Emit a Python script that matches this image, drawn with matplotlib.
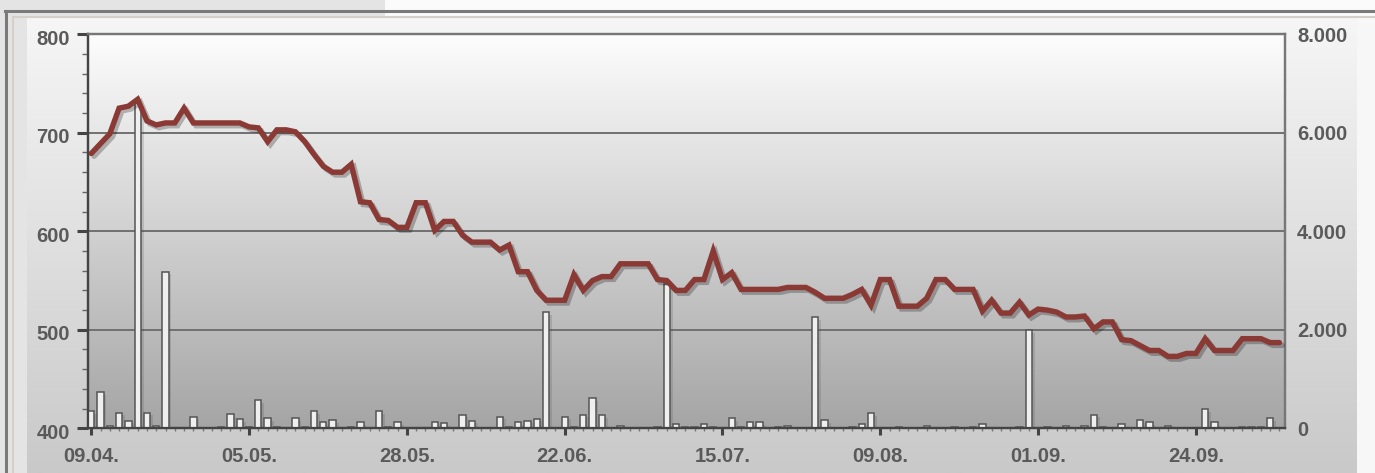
import numpy as np
import matplotlib
matplotlib.use("Agg")
import matplotlib.pyplot as plt
import matplotlib.patheffects as pe
import matplotlib.transforms as mtrans
from matplotlib.patches import Rectangle
from matplotlib.ticker import MultipleLocator, FuncFormatter

# Kurs (linke Achse), ein Wert pro Handelstag
kurs = [679, 689, 699, 725, 727, 734, 712, 708, 710, 710,
        725, 710, 710, 710, 710, 710, 710, 706, 705, 691,
        703, 703, 701, 691, 678, 666, 660, 660, 668, 630,
        629, 612, 611, 604, 604, 629, 629, 601, 610, 610,
        596, 589, 589, 589, 581, 586, 559, 559, 540, 530,
        530, 530, 556, 540, 550, 554, 554, 567, 567, 567,
        567, 551, 550, 540, 540, 551, 551, 580, 551, 558,
        541, 541, 541, 541, 541, 543, 543, 543, 538, 532,
        532, 532, 536, 541, 525, 551, 551, 524, 524, 524,
        532, 551, 551, 541, 541, 541, 519, 530, 517, 517,
        528, 515, 521, 520, 518, 513, 513, 514, 501, 508,
        508, 490, 489, 484, 479, 479, 473, 473, 476, 476,
        491, 479, 479, 479, 491, 491, 491, 487, 487]

# Umsatz (rechte Achse)
umsatz = [352, 731, 54, 318, 156, 6600, 318, 54, 3182, 0,
          0, 237, 0, 0, 34, 284, 190, 34, 575, 200,
          30, 0, 200, 20, 352, 118, 160, 0, 30, 118,
          0, 352, 30, 125, 0, 0, 0, 125, 100, 0,
          277, 155, 0, 0, 236, 30, 120, 155, 197, 2355,
          0, 236, 30, 277, 609, 270, 0, 54, 0, 0,
          0, 20, 2920, 88, 20, 30, 88, 30, 0, 203,
          30, 125, 125, 0, 30, 50, 0, 0, 2250, 165,
          0, 0, 30, 88, 315, 0, 0, 30, 0, 0,
          47, 0, 0, 30, 0, 30, 81, 0, 0, 0,
          30, 1990, 0, 30, 0, 47, 0, 47, 277, 30,
          0, 88, 0, 165, 120, 0, 47, 0, 0, 0,
          386, 120, 0, 0, 30, 30, 30, 203, 0]

datum_pos = [0, 17, 34, 51, 68, 85, 102, 119]
datum_txt = ["09.04.", "05.05.", "28.05.", "22.06.", "15.07.", "09.08.", "01.09.", "24.09."]

tage = np.arange(len(kurs))

W, H = 1375, 473
fig = plt.figure(figsize=(W / 100, H / 100), dpi=100)
fig.patch.set_facecolor("#e4e4e4")

# Hintergrund / Rahmen in Pixelkoordinaten
bg = fig.add_axes([0, 0, 1, 1], zorder=-10)
bg.axis("off")
bg.add_patch(Rectangle((385, 0), W - 385, 17, color="#fbfbfb", lw=0))
bg.add_patch(Rectangle((1357, 17), W - 1357, H, color="#f7f7f7", lw=0))
grad = np.linspace(0, 1, 256).reshape(-1, 1)
bg.imshow(grad, cmap=matplotlib.colors.LinearSegmentedColormap.from_list("p", ["#f6f6f6", "#c9c9c9"]),
          extent=[27, 1357, H, 18], aspect="auto", zorder=1)
bg.plot([5, W], [11, 11], color="#7a7a7a", lw=2.2)
bg.plot([6, 6], [11, H], color="#7a7a7a", lw=2.2)
bg.plot([13, W], [17.5, 17.5], color="#d4d0c8", lw=1.5)
bg.plot([13, 13], [17.5, H], color="#d4d0c8", lw=1.5)
bg.set_xlim(0, W)
bg.set_ylim(H, 0)

ax = fig.add_axes([88 / W, 1 - 428.3 / H, (1285 - 88) / W, (428.3 - 34.3) / H])
ax2 = ax.twinx()
ax.set_zorder(2)
ax2.set_zorder(1)
ax.patch.set_visible(False)

# Verlauf im Plotbereich
ax2.imshow(grad, cmap=matplotlib.colors.LinearSegmentedColormap.from_list("a", ["#fdfdfd", "#a5a5a5"]),
           extent=[0, 1, 0, 1], transform=ax2.transAxes, aspect="auto", zorder=0)

# Umsatzbalken
ax2.bar(tage, umsatz, width=0.68, color="#efefef", edgecolor="#555555", lw=1.1, zorder=3,
        path_effects=[pe.SimplePatchShadow(offset=(2, -2), alpha=0.18), pe.Normal()])
ax2.set_ylim(0, 8000)
ax2.set_yticks([0, 2000, 4000, 6000, 8000])
ax2.yaxis.set_major_formatter(FuncFormatter(lambda v, p: f"{v:,.0f}".replace(",", ".")))
ax2.grid(axis="y", color="#707070", lw=1.4, zorder=1)
ax2.set_axisbelow(True)
ax2.tick_params(axis="y", length=0, pad=8.6, labelsize=14.5, labelcolor="#5a5a5a")

# Kurslinie
ax.plot(tage, kurs, color="#8a3934", lw=3.9, solid_joinstyle="miter", solid_capstyle="round", zorder=5,
        path_effects=[pe.SimpleLineShadow(offset=(2, -2), alpha=0.25), pe.Normal()])
ax.set_ylim(400, 800)
ax.set_xlim(-0.35, 128.6)
ax.yaxis.set_major_locator(MultipleLocator(100))
ax.yaxis.set_minor_locator(MultipleLocator(20))
ax.set_xticks(datum_pos)
ax.set_xticklabels(datum_txt)
ax.xaxis.set_minor_locator(MultipleLocator(1))

ax.tick_params(axis="y", which="major", length=8, width=2.2, color="#444444", pad=5.2,
               labelsize=14.5, labelcolor="#5a5a5a")
ax.tick_params(axis="y", which="minor", length=4, width=1, color="#666666")
ax.tick_params(axis="x", which="major", length=5, width=2.2, color="#444444", pad=8.6,
               labelsize=14.5, labelcolor="#5a5a5a")
ax.tick_params(axis="x", which="minor", length=2, width=1, color="#777777")

for a in (ax, ax2):
    for lab in a.get_xticklabels() + a.get_yticklabels():
        lab.set_fontfamily("Liberation Sans")
        lab.set_fontweight("bold")
    a.spines["top"].set_color("#777777")
    a.spines["right"].set_color("#777777")
    a.spines["left"].set_color("#444444")
    a.spines["bottom"].set_color("#444444")
    for s in a.spines.values():
        s.set_linewidth(1.6)

# linke Beschriftung sitzt im Original etwas tiefer
shift = mtrans.ScaledTranslation(0, -3 / 100, fig.dpi_scale_trans)
for lab in ax.get_yticklabels():
    lab.set_transform(lab.get_transform() + shift)

fig.savefig("out.png", dpi=100, facecolor=fig.get_facecolor())
